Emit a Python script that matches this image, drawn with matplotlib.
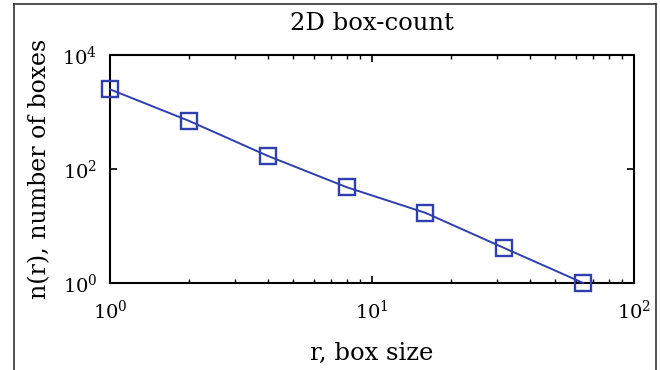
import numpy as np
import matplotlib
matplotlib.use('Agg')
import matplotlib.pyplot as plt
from matplotlib.lines import Line2D

plt.rcParams['font.family'] = ['DejaVu Serif']
plt.rcParams['mathtext.fontset'] = 'dejavuserif'

# box size vs number of boxes
r = [1, 2, 4, 8, 16, 32, 64]
n_r = [2500, 700, 170, 48, 17, 4.1, 1]

title = '2D box-count'
xlab = 'r, box size'
ylab = 'n(r), number of boxes'

fig = plt.figure(figsize=(6.6, 3.7), dpi=100)
ax = fig.add_axes([110/660, 1-283/370, (634-110)/660, (283-55)/370])

ax.loglog(r, n_r, color='#2f3fae', lw=1.4, marker='s', ms=11,
          mfc='none', mec='#2f3fae', mew=1.7, clip_on=False, zorder=3)

ax.set_xlim(1, 100)
ax.set_ylim(1, 10000)
ax.set_yticks([1, 100, 10000])
ax.yaxis.set_minor_locator(matplotlib.ticker.NullLocator())

ax.tick_params(which='both', direction='in', top=True, right=True, labelsize=14)
ax.tick_params(axis='x', pad=12)
ax.tick_params(axis='y', pad=9)
ax.tick_params(which='major', length=5, width=1.2)
ax.tick_params(which='minor', length=3, width=1.0)
for s in ax.spines.values():
    s.set_linewidth(1.5)

ax.set_title(title, fontsize=17.5, pad=18)
ax.set_xlabel(xlab, fontsize=17.5, labelpad=14)
ax.set_ylabel(ylab, fontsize=17, labelpad=8)

# outer frame of the screenshot
fc = '#333333'
fig.add_artist(Line2D([14/660, 14/660], [0, 1-4/370], color=fc, lw=1.2, transform=fig.transFigure))
fig.add_artist(Line2D([14/660, 656/660], [1-4/370, 1-4/370], color=fc, lw=1.2, transform=fig.transFigure))
fig.add_artist(Line2D([656/660, 656/660], [0, 1-4/370], color=fc, lw=1.2, transform=fig.transFigure))

fig.savefig('out.png', dpi=100)
